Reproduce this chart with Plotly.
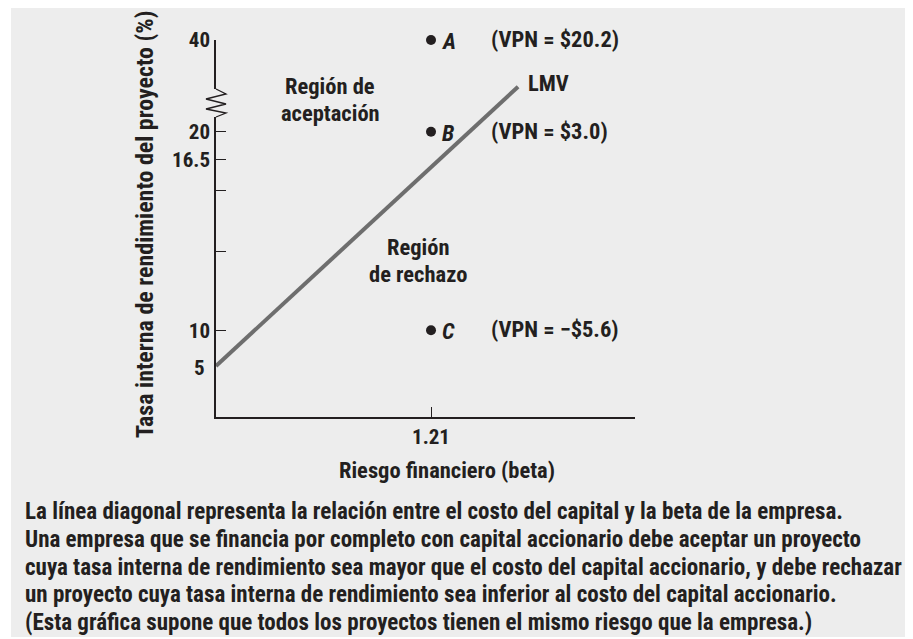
import numpy as np
import plotly.graph_objects as go

# ---------------- data ----------------
point_names = ["A", "B", "C"]
point_beta = [1.21, 1.21, 1.21]
point_irr = [40, 20, 10]
npv_labels = ["(VPN = $20.2)", "(VPN = $3.0)", "(VPN = −$5.6)"]

sml_beta = [0.0, 1.70]
sml_rate = [5.0, 29.8]

x_tick_vals = [1.21]
x_tick_text = ["1.21"]
y_tick_rates = [10, 13, 15.3, 16.5, 20, 40]
y_tick_text = ["10", "", "", "16.5", "20", "40"]

# schematic (broken, non-linear) vertical scale of the original diagram: rate -> axis position
scale_rate = [0, 5, 10, 16.5, 20, 40]
scale_pos = [0, 51, 86.7, 257.7, 285.3, 377]

caption_lines = [
    "La línea diagonal representa la relación entre el costo del capital y la beta de la empresa.",
    "Una empresa que se financia por completo con capital accionario debe aceptar un proyecto",
    "cuya tasa interna de rendimiento sea mayor que el costo del capital accionario, y debe rechazar",
    "un proyecto cuya tasa interna de rendimiento sea inferior al costo del capital accionario.",
    "(Esta gráfica supone que todos los proyectos tienen el mismo riesgo que la empresa.)",
]


def ypos(r):
    return np.interp(r, scale_rate, scale_pos)


# ---------------- layout helpers (page has an 8px body margin) ----------------
W, H = 905, 631
L, T = 208, 32
PW, PH = 419, 377
R, B = W - L - PW, H - T - PH
X0S, Y0S = 216, 417  # screen position of the axes corner


def px(x):
    return (x - X0S) / PW


def py(y):
    return (Y0S - y) / PH


FONT = "Roboto Condensed, Open Sans Condensed, Liberation Sans, sans-serif"
INK = "#231f20"
BG = "#ededed"
FS = 22.5
FS_CAP = 23
FS_TICK = 21
FS_YTITLE = 24

fig = go.Figure()

fig.add_trace(go.Scatter(
    x=sml_beta, y=ypos(sml_rate), mode="lines",
    line=dict(color="#6e6e6e", width=4), hoverinfo="skip", showlegend=False))

fig.add_trace(go.Scatter(
    x=point_beta, y=ypos(point_irr), mode="markers", cliponaxis=False,
    marker=dict(color=INK, size=10), showlegend=False))

ann = []
for name, xb, r, lab in zip(point_names, point_beta, point_irr, npv_labels):
    ann.append(dict(x=xb, y=ypos(r), xref="x", yref="y", text=f"<b><i>{name}</i></b>",
                    showarrow=False, xanchor="left", xshift=9, yshift=-1))
    ann.append(dict(x=xb, y=ypos(r), xref="x", yref="y", text=f"<b>{lab}</b>",
                    showarrow=False, xanchor="left", xshift=58, yshift=1))

ann.append(dict(x=sml_beta[1], y=ypos(sml_rate[1]), xref="x", yref="y", text="<b>LMV</b>",
                showarrow=False, xanchor="left", xshift=8, yshift=4))
ann.append(dict(x=0, y=ypos(5), xref="paper", yref="y", text="<b>5</b>",
                showarrow=False, xanchor="right", xshift=-9, yshift=-2,
                font=dict(size=FS_TICK)))

for txt, cx, cy in [("Región de", 330, 86), ("aceptación", 330, 113),
                    ("Región", 418, 247), ("de rechazo", 418, 274)]:
    ann.append(dict(x=px(cx), y=py(cy), xref="paper", yref="paper", text=f"<b>{txt}</b>",
                    showarrow=False, xanchor="center", yanchor="middle"))

ann.append(dict(x=px(447), y=py(470), xref="paper", yref="paper",
                text="<b>Riesgo financiero (beta)</b>", showarrow=False,
                xanchor="center", yanchor="middle"))
ann.append(dict(x=px(145), y=py(225), xref="paper", yref="paper",
                text="<b>Tasa interna de rendimiento del proyecto (%)</b>", showarrow=False,
                textangle=-90, xanchor="center", yanchor="middle",
                font=dict(size=FS_YTITLE)))

for i, line in enumerate(caption_lines):
    ann.append(dict(x=px(23), y=py(511.7 + i * 27.75), xref="paper", yref="paper",
                    text=f"<b>{line}</b>", showarrow=False, xanchor="left", yanchor="middle",
                    font=dict(size=FS_CAP)))

shapes = [
    dict(type="rect", xref="paper", yref="paper", x0=px(11), x1=px(930),
         y0=py(637), y1=py(8), fillcolor=BG, line=dict(width=0), layer="below"),
    # axis break cover
    dict(type="rect", xref="paper", yref="paper", x0=px(212), x1=px(220),
         y0=py(117), y1=py(89), fillcolor=BG, line=dict(width=0), layer="above"),
]
zz = [(216, 89), (226, 94), (206, 99), (226, 104), (206, 109), (226, 113), (216, 117)]
path = "M " + " L ".join(f"{px(a):.5f},{py(b):.5f}" for a, b in zz)
shapes.append(dict(type="path", xref="paper", yref="paper", path=path,
                   line=dict(color=INK, width=1.3), layer="above"))

fig.update_layout(
    width=W, height=H, autosize=False,
    margin=dict(l=L, r=R, t=T, b=B, pad=0),
    paper_bgcolor="white", plot_bgcolor="rgba(0,0,0,0)",
    font=dict(family=FONT, size=FS, color=INK),
    showlegend=False,
    annotations=ann, shapes=shapes,
    xaxis=dict(range=[0, 2.358], showline=True, linecolor=INK, linewidth=1.5,
               ticks="inside", ticklen=10, tickwidth=1.3, tickcolor=INK,
               tickvals=x_tick_vals, ticktext=[f"<b>{t}</b>" for t in x_tick_text],
               tickfont=dict(size=FS_TICK),
               showgrid=False, zeroline=False, fixedrange=True),
    yaxis=dict(range=[0, 377], showline=True, linecolor=INK, linewidth=1.5,
               ticks="inside", ticklen=10, tickwidth=1.3, tickcolor=INK,
               tickvals=list(ypos(y_tick_rates)),
               ticktext=[f"<b>{t}</b>" if t else "" for t in y_tick_text],
               tickfont=dict(size=FS_TICK),
               showgrid=False, zeroline=False, fixedrange=True),
)

fig.write_html("out.html")
